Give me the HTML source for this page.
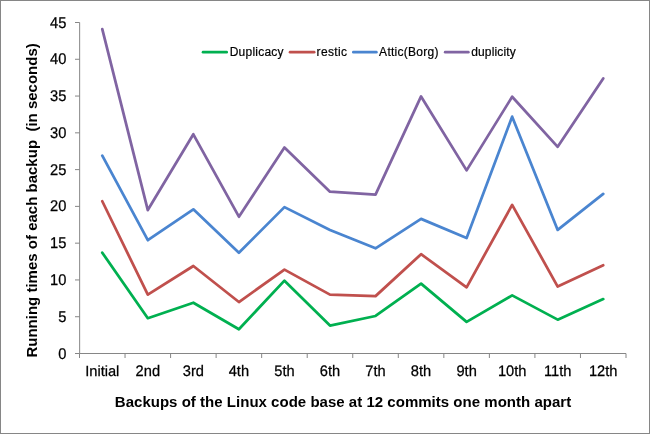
<!DOCTYPE html>
<html><head><meta charset="utf-8"><style>
html,body{margin:0;padding:0;background:#fff;}
svg{display:block;will-change:transform;}
.t{font-family:"Liberation Sans",sans-serif;font-size:14.67px;fill:#000;stroke:#000;stroke-width:0.25px;}
.b{font-family:"Liberation Sans",sans-serif;font-size:15px;font-weight:bold;fill:#000;white-space:pre;}
.g{text-rendering:geometricPrecision;}
.l{font-family:"Liberation Sans",sans-serif;font-size:12px;fill:#000;stroke:#000;stroke-width:0.2px;}
</style></head><body>
<svg width="650" height="434" viewBox="0 0 650 434" xml:space="preserve">
<rect x="0.5" y="0.5" width="649" height="433" fill="#fff" stroke="#868686" stroke-width="1"/>
<path d="M79.65 22.5V353.5" fill="none" stroke="#868686" stroke-width="1"/>
<path d="M79.5 353.5H626.0" fill="none" stroke="#868686" stroke-width="1"/>
<path d="M75 353.50H79.65M75 316.72H79.65M75 279.94H79.65M75 243.17H79.65M75 206.39H79.65M75 169.61H79.65M75 132.83H79.65M75 96.06H79.65M75 59.28H79.65M75 22.50H79.65M79.50 353.5V358M125.04 353.5V358M170.58 353.5V358M216.12 353.5V358M261.67 353.5V358M307.21 353.5V358M352.75 353.5V358M398.29 353.5V358M443.83 353.5V358M489.38 353.5V358M534.92 353.5V358M580.46 353.5V358M626.00 353.5V358" fill="none" stroke="#868686" stroke-width="1"/>
<text transform="translate(66.3 358.50) scale(1 1.06)" x="0" y="0" text-anchor="end" class="t g">0</text>
<text transform="translate(66.3 321.72) scale(1 1.06)" x="0" y="0" text-anchor="end" class="t g">5</text>
<text transform="translate(66.3 284.94) scale(1 1.06)" x="0" y="0" text-anchor="end" class="t g">10</text>
<text transform="translate(66.3 248.17) scale(1 1.06)" x="0" y="0" text-anchor="end" class="t g">15</text>
<text transform="translate(66.3 211.39) scale(1 1.06)" x="0" y="0" text-anchor="end" class="t g">20</text>
<text transform="translate(66.3 174.61) scale(1 1.06)" x="0" y="0" text-anchor="end" class="t g">25</text>
<text transform="translate(66.3 137.83) scale(1 1.06)" x="0" y="0" text-anchor="end" class="t g">30</text>
<text transform="translate(66.3 101.06) scale(1 1.06)" x="0" y="0" text-anchor="end" class="t g">35</text>
<text transform="translate(66.3 64.28) scale(1 1.06)" x="0" y="0" text-anchor="end" class="t g">40</text>
<text transform="translate(66.3 27.50) scale(1 1.06)" x="0" y="0" text-anchor="end" class="t g">45</text>
<text transform="translate(102.27 376.2) scale(1 1.0)" x="0" y="0" text-anchor="middle" class="t g">Initial</text>
<text transform="translate(147.81 376.2) scale(1 1.04)" x="0" y="0" text-anchor="middle" class="t g">2nd</text>
<text transform="translate(193.35 376.2) scale(1 1.04)" x="0" y="0" text-anchor="middle" class="t g">3rd</text>
<text transform="translate(238.90 376.2) scale(1 1.04)" x="0" y="0" text-anchor="middle" class="t g">4th</text>
<text transform="translate(284.44 376.2) scale(1 1.04)" x="0" y="0" text-anchor="middle" class="t g">5th</text>
<text transform="translate(329.98 376.2) scale(1 1.04)" x="0" y="0" text-anchor="middle" class="t g">6th</text>
<text transform="translate(375.52 376.2) scale(1 1.04)" x="0" y="0" text-anchor="middle" class="t g">7th</text>
<text transform="translate(421.06 376.2) scale(1 1.04)" x="0" y="0" text-anchor="middle" class="t g">8th</text>
<text transform="translate(466.60 376.2) scale(1 1.04)" x="0" y="0" text-anchor="middle" class="t g">9th</text>
<text transform="translate(512.15 376.2) scale(1 1.04)" x="0" y="0" text-anchor="middle" class="t g">10th</text>
<text transform="translate(557.69 376.2) scale(1 1.04)" x="0" y="0" text-anchor="middle" class="t g">11th</text>
<text transform="translate(603.23 376.2) scale(1 1.04)" x="0" y="0" text-anchor="middle" class="t g">12th</text>
<polyline points="102.27,252.73 147.81,318.19 193.35,302.75 238.90,329.23 284.44,280.68 329.98,325.55 375.52,315.99 421.06,283.62 466.60,321.87 512.15,295.39 557.69,319.66 603.23,299.07" fill="none" stroke="#00B050" stroke-width="2.75" stroke-linejoin="round" stroke-linecap="round"/>
<polyline points="102.27,201.24 147.81,294.66 193.35,265.97 238.90,302.01 284.44,269.65 329.98,294.66 375.52,296.13 421.06,254.20 466.60,287.30 512.15,204.92 557.69,286.56 603.23,265.23" fill="none" stroke="#C0504D" stroke-width="2.75" stroke-linejoin="round" stroke-linecap="round"/>
<polyline points="102.27,155.64 147.81,240.22 193.35,209.33 238.90,252.73 284.44,207.12 329.98,229.93 375.52,248.32 421.06,218.89 466.60,238.02 512.15,116.65 557.69,229.93 603.23,193.88" fill="none" stroke="#4A85D0" stroke-width="2.75" stroke-linejoin="round" stroke-linecap="round"/>
<polyline points="102.27,29.12 147.81,210.07 193.35,134.30 238.90,216.69 284.44,147.54 329.98,191.68 375.52,194.62 421.06,96.42 466.60,170.35 512.15,96.79 557.69,146.81 603.23,78.40" fill="none" stroke="#8064A2" stroke-width="2.75" stroke-linejoin="round" stroke-linecap="round"/>
<text x="343" y="407.2" text-anchor="middle" class="b" textLength="456.4" lengthAdjust="spacing">Backups of the Linux code base at 12 commits one month apart</text>
<text transform="translate(36.9 200.4) rotate(-90)" x="0" y="0" text-anchor="middle" class="b" textLength="314.4" lengthAdjust="spacing">Running times of each backup  (in seconds)</text>
<path d="M203.00 52.15H226.70" stroke="#00B050" stroke-width="2.6" stroke-linecap="round"/>
<text x="229.70000000000002" y="55.9" class="l" textLength="53.8" lengthAdjust="spacing">Duplicacy</text>
<path d="M290.00 52.15H314.20" stroke="#C0504D" stroke-width="2.6" stroke-linecap="round"/>
<text x="316.5" y="55.9" class="l" textLength="30.6" lengthAdjust="spacing">restic</text>
<path d="M353.30 52.15H376.40" stroke="#4A85D0" stroke-width="2.6" stroke-linecap="round"/>
<text x="379.09999999999997" y="55.9" class="l" textLength="59.4" lengthAdjust="spacing">Attic(Borg)</text>
<path d="M445.10 52.15H468.40" stroke="#8064A2" stroke-width="2.6" stroke-linecap="round"/>
<text x="471.2" y="55.9" class="l" textLength="44.6" lengthAdjust="spacing">duplicity</text>
</svg>
</body></html>
